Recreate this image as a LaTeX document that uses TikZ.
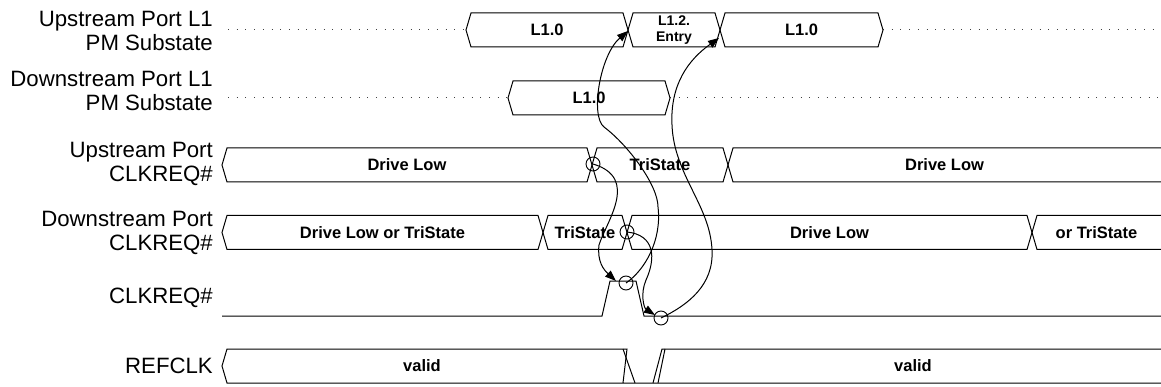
\documentclass[tikz,border=0pt]{standalone}
\usepackage{fontspec}
\setmainfont{Liberation Sans}
\usetikzlibrary{arrows.meta}

\begin{document}
\begin{tikzpicture}[x=1pt, y=-1pt, >={Triangle[length=11pt,width=8pt]},
  sig/.style={line width=1pt, line join=miter},
  guide/.style={line width=1pt, dash pattern=on 1pt off 7.7pt, black!75},
  lbl/.style={anchor=east, align=right, inner sep=1pt, font=\fontsize{22.2}{24.5}\selectfont},
  val/.style={font=\fontsize{16.5}{18}\selectfont\bfseries, align=center},
  evt/.style={circle, draw, line width=0.9pt, minimum size=14pt, inner sep=0pt},
  cause/.style={->, line width=1pt}]
  \useasboundingbox (0,0) rectangle (1161,387);
  % row labels
  \node[lbl] (usPM)  at (214,31)  {Upstream Port L1\\PM Substate};
  \node[lbl] (dsPM)  at (214,91)  {Downstream Port L1\\PM Substate};
  \node[lbl] (usReq) at (214,164) {Upstream Port\\CLKREQ\#};
  \node[lbl] (dsReq) at (214,233) {Downstream Port\\CLKREQ\#};
  \node[lbl] (req)   at (214,298) {CLKREQ\#};
  \node[lbl] (clk)   at (214,366) {REFCLK};
  % dotted guides of the substate rows
  \draw[guide] (228,30) -- (466,30);
  \draw[guide] (883,30) -- (1158,30);
  \draw[guide] (228,98) -- (508,98);
  \draw[guide] (670,98) -- (1158,98);
  % closed bus segments
  \foreach \xa/\xb/\ym/\txt/\nm in {466/628/30/L1.0/usOld, 720/883/30/L1.0/usNew,
      508/670/98/L1.0/dsOld,
      222/592/165/Drive Low/usLow, 592/728/165/TriState/usTri3,
      222/543/232.5/Drive Low or TriState/dsEither, 543/627/232.5/TriState/dsTri3,
      627/1032/232.5/Drive Low/dsLow} {
    \draw[sig] (\xa,\ym) -- (\xa+5,\ym-17) -- (\xb-5,\ym-17) -- (\xb,\ym)
      -- (\xb-5,\ym+17) -- (\xa+5,\ym+17) -- cycle;
    \node[val] (\nm) at ({(\xa+\xb)/2},\ym) {\txt};
  }
  \draw[sig] (628,30) -- (633,13) -- (715,13) -- (720,30) -- (715,47) -- (633,47) -- cycle;
  \node[val, font=\fontsize{14}{16}\selectfont\bfseries] (usEntry) at (674,30) {L1.2.\\Entry};
  % open bus segments running off the right edge
  \foreach \xa/\ym/\txt/\nm in {728/165/Drive Low/usLow2, 1032/232.5/or TriState/dsEither2} {
    \draw[sig] (1162,\ym-17) -- (\xa+5,\ym-17) -- (\xa,\ym) -- (\xa+5,\ym+17) -- (1162,\ym+17);
    \node[val] (\nm) at ({(\xa+1161)/2},\ym) {\txt};
  }
  % CLKREQ# wire
  \draw[sig] (222,316) -- (602,316) -- (610,281) -- (636,281) -- (644,316) -- (1162,316);
  % REFCLK stop and restart
  \draw[sig] (1162,383) -- (227,383) -- (222,366) -- (227,349) -- (627,349) -- (623,383);
  \draw[sig] (623,349) -- (635,383);
  \draw[sig] (653,383) -- (662,349) -- (1162,349);
  \draw[sig] (658,383) -- (665,349);
  \node[val] (clkOld) at (422,366) {valid};
  \node[val] (clkNew) at (913,366) {valid};
  % events
  \node[evt] (usTri) at (593,164) {};
  \node[evt] (dsTri) at (627,232) {};
  \node[evt] (reqUp) at (626,283) {};
  \node[evt] (reqDn) at (661,318) {};
  \coordinate (riseTop)   at (616,281);
  \coordinate (fallBot)   at (655,315);
  \coordinate (entryEdge) at (628,31);
  \coordinate (exitEdge)  at (719,38);
  % causal arrows
  \draw[cause] (usTri.center) .. controls (640,178) and (606,222) .. (599,245)
    .. controls (597,262) and (604,270) .. (riseTop);
  \draw[cause] (dsTri.center) .. controls (655,235) and (656,258) .. (646,280)
    .. controls (640,294) and (644,308) .. (fallBot);
  \draw[cause] (reqUp.center) .. controls (645,270) and (662,240) .. (658,207)
    .. controls (658,185) and (628,145) .. (604,127)
    .. controls (590,116) and (600,55) .. (entryEdge);
  \draw[cause] (reqDn.center) .. controls (688,305) and (714,285) .. (712,250)
    .. controls (710,205) and (674,175) .. (672,125)
    .. controls (670,85) and (688,60) .. (exitEdge);
\end{tikzpicture}
\end{document}
